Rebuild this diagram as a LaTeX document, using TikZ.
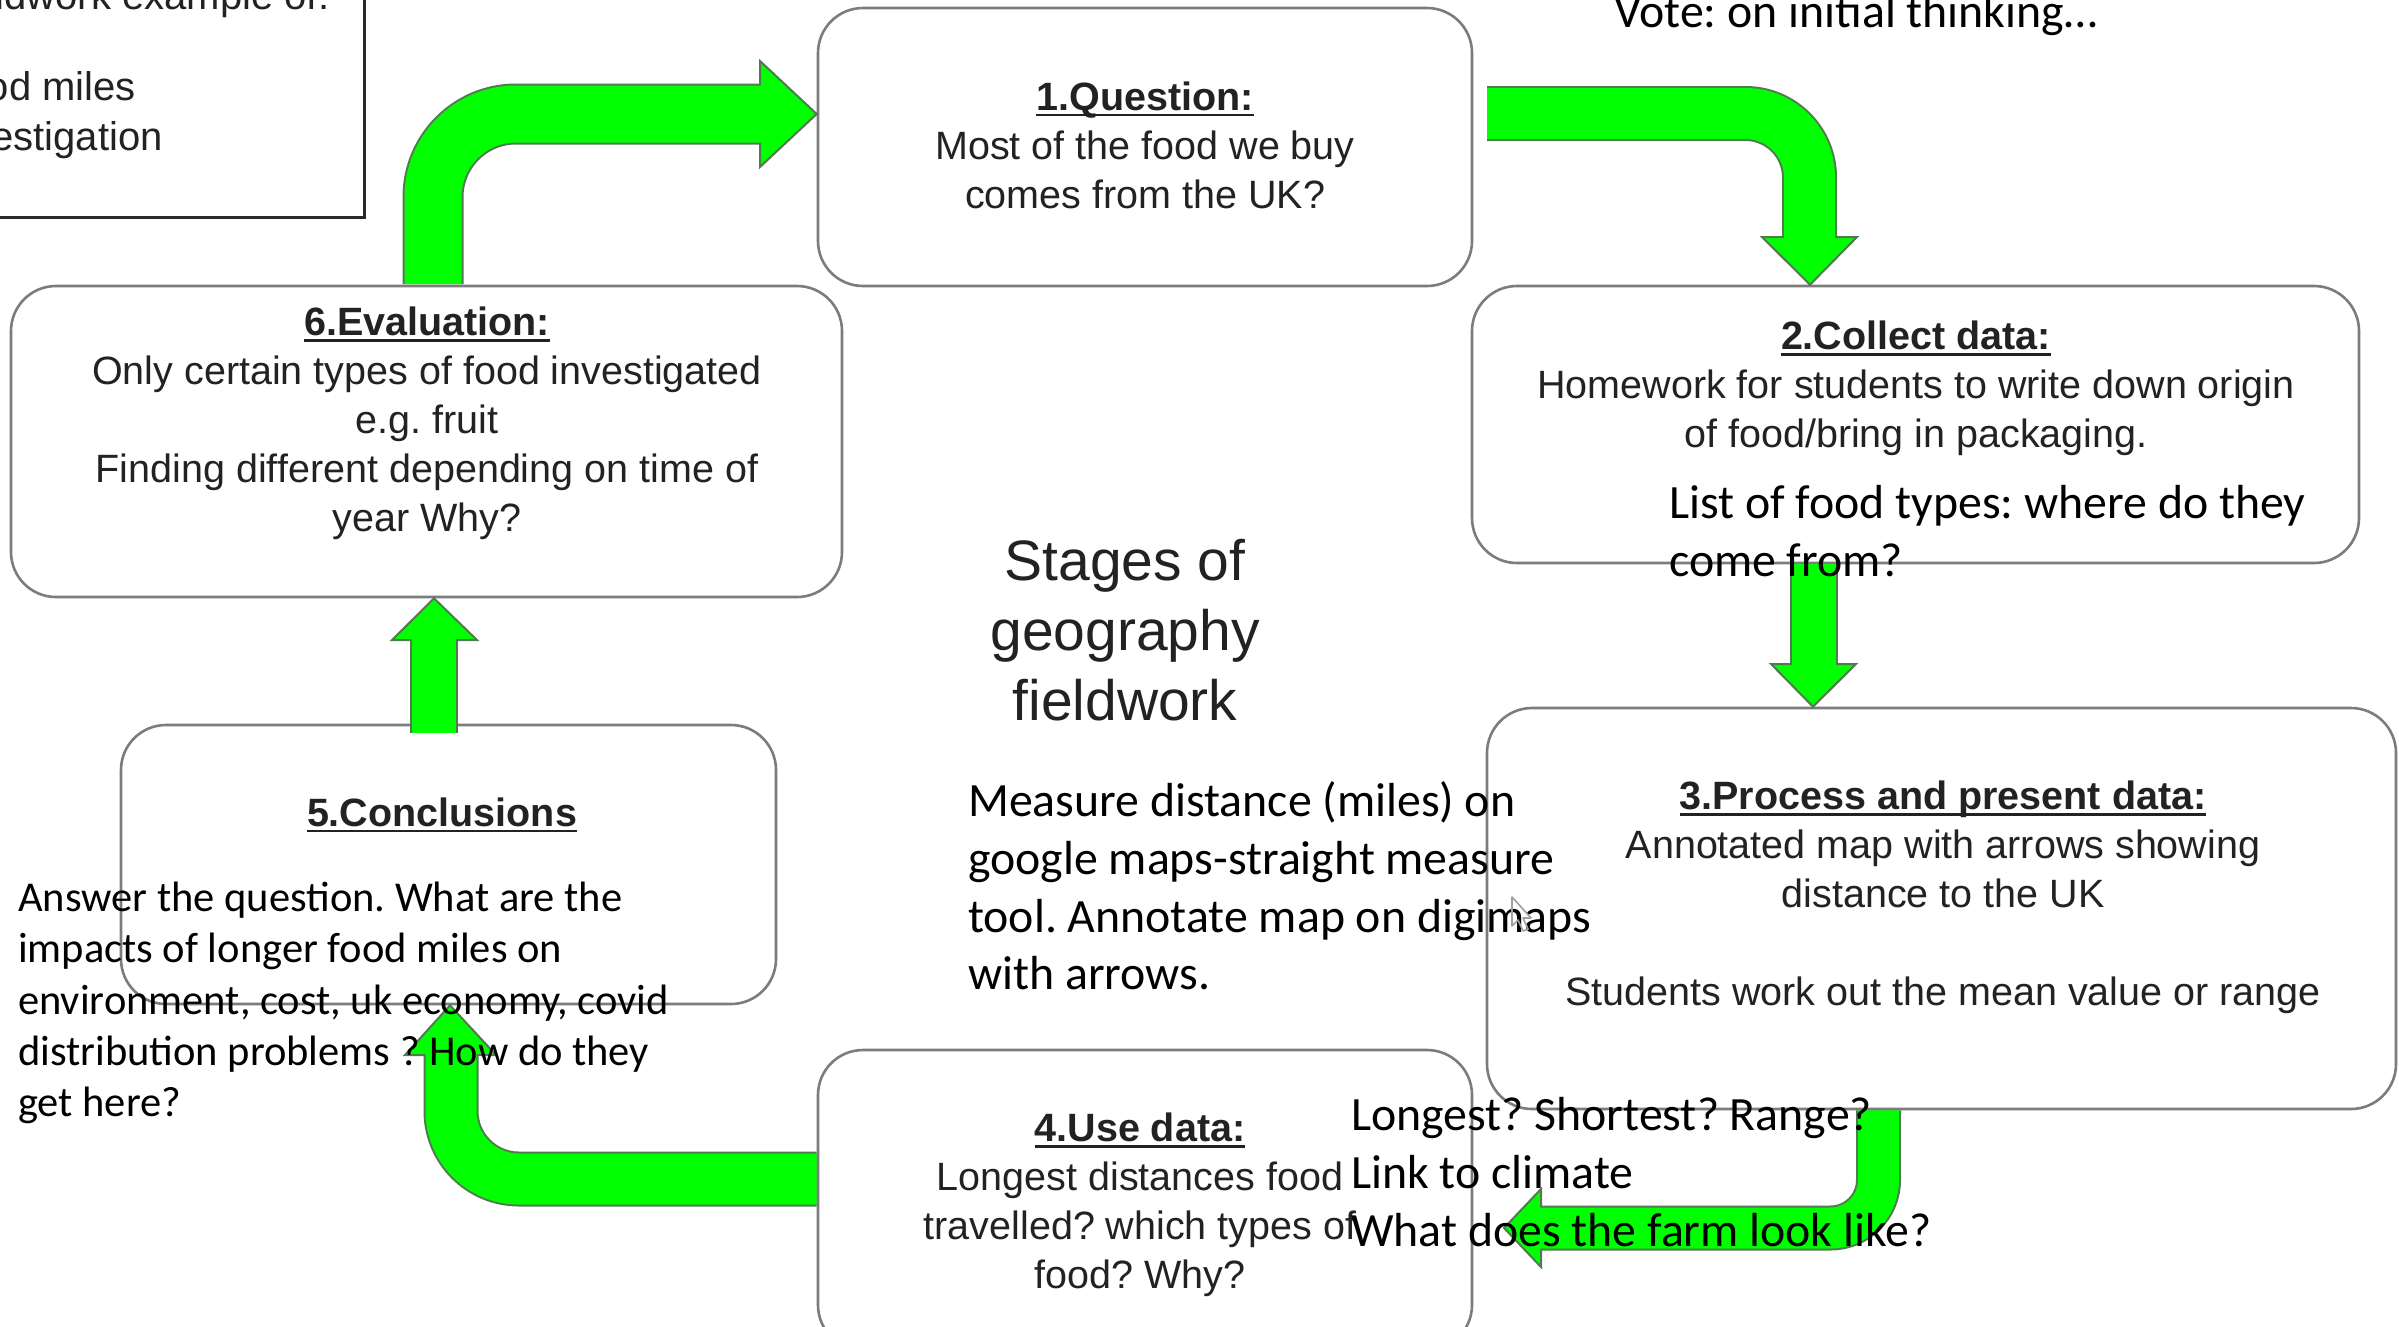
\documentclass[tikz,border=0pt]{standalone}
\usepackage{fontspec}
\setmainfont{Liberation Sans}
\newfontfamily\arfont{Liberation Sans}
\newfontfamily\calfont{Carlito}
\usetikzlibrary{calc}
\frenchspacing

\definecolor{boxline}{HTML}{7C7C7C}
\definecolor{boxink}{HTML}{222222}
\definecolor{frameline}{HTML}{2A2A2A}
\definecolor{arrowfill}{HTML}{00FF00}
\definecolor{arrowedge}{HTML}{507A50}
\definecolor{pointer}{HTML}{A0A0A0}

% bold heading with a solid underline
\newcommand\stagehead[1]{\setbox0\hbox{\bfseries #1}\rlap{\rule[-0.16em]{\wd0}{0.07em}}\box0}

\begin{document}
\begin{tikzpicture}[x=1pt,y=-1pt,
  stagebox/.style={rectangle, draw=boxline, line width=2.6pt, rounded corners=45pt, inner sep=0pt},
  boxtext/.style={font=\arfont\fontsize{39.5}{49}\selectfont, text=boxink, align=center, inner sep=0pt},
  notetext/.style={font=\calfont\fontsize{47.8}{57.7}\selectfont, text=black, align=left, inner sep=0pt, anchor=west},
  smallnote/.style={notetext, font=\calfont\fontsize{42.5}{51.3}\selectfont},
  frametext/.style={font=\arfont\fontsize{40}{49}\selectfont, text=boxink, inner sep=0pt, anchor=base west},
  shaftedge/.style={draw=arrowedge, line cap=butt},
  shaftfill/.style={draw=arrowfill, line cap=butt},
  headshape/.style={fill=arrowfill, draw=arrowedge, line width=2pt, line join=miter}
]
% page and clipping
\path[use as bounding box] (0,0) rectangle (2399,1326);
\clip (0,0) rectangle (2399,1326);
\fill[white] (0,0) rectangle (2399,1326);

% framed note, running off the page at top left
\node[rectangle, draw=frameline, line width=3pt, minimum width=404pt, minimum height=257pt, inner sep=0pt] (tlbox) at (162,88.5) {};
\node[frametext] (tl1) at (-60,9) {Fieldwork example of:};
\node[frametext] (tl2) at (-60,100) {Food miles};
\node[frametext] (tl3) at (-60,150) {investigation};

% the six stages
\node[stagebox, minimum width=654pt, minimum height=278pt] (q1) at (1145,147) {};
\node[stagebox, minimum width=887pt, minimum height=277pt] (q2) at (1915.5,424.5) {};
\node[stagebox, minimum width=909pt, minimum height=401pt] (q3) at (1941.5,908.5) {};
\node[stagebox, minimum width=654pt, minimum height=300pt] (q4) at (1145,1200) {};
\node[stagebox, minimum width=655pt, minimum height=279pt] (q5) at (448.5,864.5) {};
\node[stagebox, minimum width=831pt, minimum height=311pt] (q6) at (426.5,441.5) {};

% arrow 6 -> 1
\coordinate (a6s) at (433,284);
\coordinate (a6c) at (433,114);
\coordinate (a6h) at (760,114);
\coordinate (a6t) at (q1.west |- 0,114);
\draw[shaftedge, line width=61pt, rounded corners=83pt] (a6s) -- (a6c) -- (a6h);
\draw[headshape] (760,61) -- (a6t) -- (760,167) -- cycle;
\draw[shaftfill, line width=57pt, rounded corners=83pt] (a6s) -- (a6c) -- (763,114);

% arrow 1 -> 2
\coordinate (a1s) at (1487,113.5);
\coordinate (a1c) at (1809.5,113.5);
\coordinate (a1h) at (1809.5,237);
\coordinate (a1t) at (1810,0 |- q2.north);
\draw[shaftedge, line width=55pt, rounded corners=64pt] (a1s) -- (a1c) -- (a1h);
\draw[headshape] (1762,237) -- (a1t) -- (1857,237) -- cycle;
\draw[shaftfill, line width=51pt, rounded corners=64pt] (a1s) -- (a1c) -- (1809.5,240);

% arrow 2 -> 3
\coordinate (a2s) at (1814,0 |- q2.south);
\coordinate (a2h) at (1814,664);
\coordinate (a2t) at (1813,0 |- q3.north);
\draw[shaftedge, line width=48pt] (a2s) -- (a2h);
\draw[headshape] (1771,664) -- (a2t) -- (1856,664) -- cycle;
\draw[shaftfill, line width=44pt] (a2s) -- (1814,667);

% arrow 3 -> 4
\coordinate (a3s) at (1878.5,0 |- q3.south);
\coordinate (a3c) at (1878.5,1228);
\coordinate (a3h) at (1541,1228);
\coordinate (a3t) at (1504,1228);
\draw[shaftedge, line width=45pt, rounded corners=48pt] (a3s) -- (a3c) -- (a3h);
\draw[headshape] (1541,1189) -- (a3t) -- (1541,1267) -- cycle;
\draw[shaftfill, line width=41pt, rounded corners=48pt] (a3s) -- (a3c) -- (1538,1228);

% arrow 4 -> 5
\coordinate (a4s) at (q4.west |- 0,1179);
\coordinate (a4c) at (451,1179);
\coordinate (a4h) at (451,1055);
\coordinate (a4t) at (450,0 |- q5.south);
\draw[shaftedge, line width=55pt, rounded corners=68pt] (a4s) -- (a4c) -- (a4h);
\draw[headshape] (405,1055) -- (a4t) -- (496,1055) -- cycle;
\draw[shaftfill, line width=51pt, rounded corners=68pt] (a4s) -- (a4c) -- (451,1052);

% arrow 5 -> 6
\coordinate (a5s) at (434,733);
\coordinate (a5h) at (434,640);
\coordinate (a5t) at (434,0 |- q6.south);
\draw[shaftedge, line width=48pt] (a5s) -- (a5h);
\draw[headshape] (392,640) -- (a5t) -- (477,640) -- cycle;
\draw[shaftfill, line width=44pt] (a5s) -- (434,637);

% stage texts
\node[boxtext] (t1) at (1145,145) {\stagehead{1.Question:}\\Most of the food we buy\\comes from the UK?};
\node[boxtext] (t2) at (1916,388) {\stagehead{2.Collect data:}\\Homework for students to write down origin\\of food/bring in packaging.};
\node[boxtext] (t3) at (1943,897) {\stagehead{3.Process and present data:}\\Annotated map with arrows showing\\distance to the UK\\[49pt]Students work out the mean value or range};
\node[boxtext] (t4) at (1140,1205) {\stagehead{4.Use data:}\\Longest distances food\\travelled? which types of\\food? Why?};
\node[boxtext] (t5) at (442,815) {\stagehead{5.Conclusions}};
\node[boxtext] (t6) at (427,423) {\stagehead{6.Evaluation:}\\Only certain types of food investigated\\e.g. fruit\\Finding different depending on time of\\year Why?};

% centre title
\node[font=\arfont\fontsize{57}{70}\selectfont, text=boxink, align=center, inner sep=0pt] (title) at (1125,630) {Stages of\\geography\\fieldwork};

% typed notes
\node[notetext, anchor=base west] (vote) at (1614,27) {Vote: on initial thinking…};
\node[notetext] (n2) at (1669,531) {List of food types: where do they\\come from?};
\node[notetext] (n3) at (968,886) {Measure distance (miles) on\\google maps-straight measure\\tool. Annotate map on digimaps\\with arrows.};
\node[notetext] (n4) at (1351,1172) {Longest? Shortest? Range?\\Link to climate\\What does the farm look like?};
\node[smallnote] (n5) at (18,1003) {Answer the question. What are the\\impacts of longer food miles on\\environment, cost, uk economy, covid\\distribution problems ? How do they\\get here?};

% mouse pointer
\draw[pointer, line width=1.6pt, line join=round] (1512,897) -- (1512,926) -- (1518,920) -- (1523,931) -- (1528,929) -- (1523,918) -- (1531,918) -- cycle;
\end{tikzpicture}
\end{document}
